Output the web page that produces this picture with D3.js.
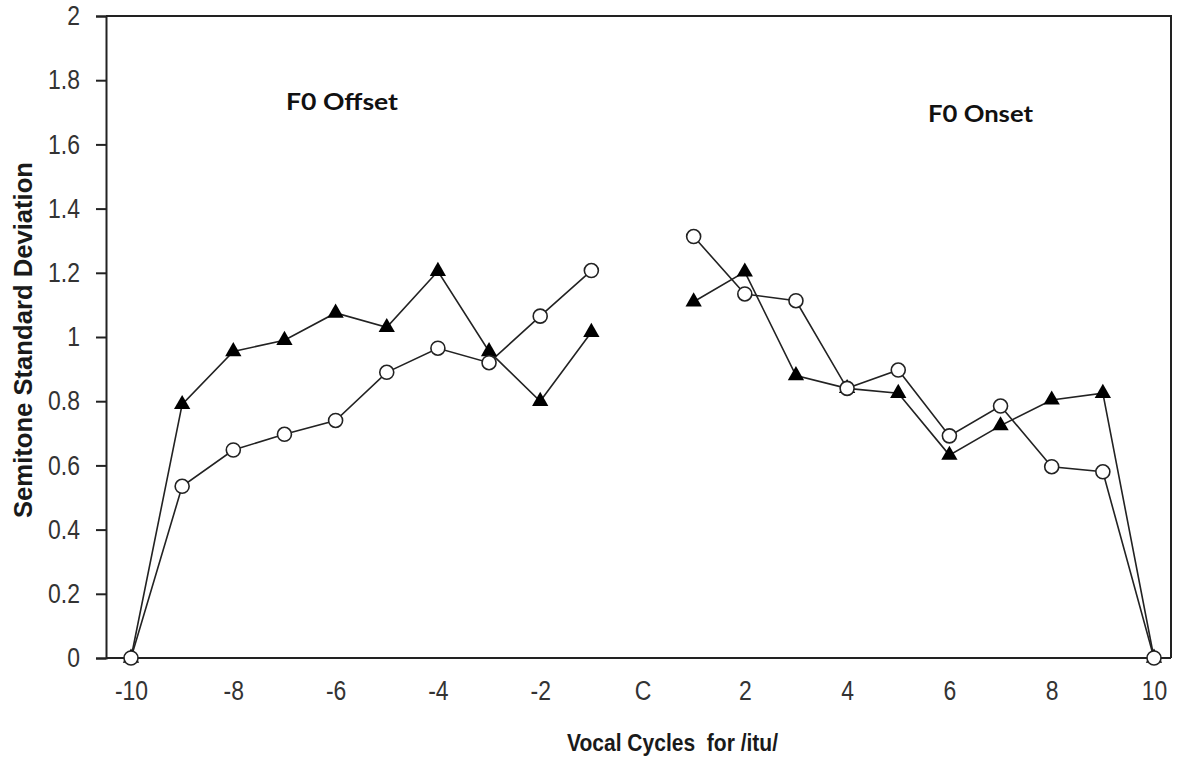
<!DOCTYPE html>
<html>
<head>
<meta charset="utf-8">
<title>Semitone Standard Deviation</title>
<script src="https://cdn.jsdelivr.net/npm/d3@7"></script>
<style>
  html, body { margin: 0; padding: 0; background: #fff; }
  svg { display: block; }
  .tick text { font-family: "Liberation Sans", Arial, sans-serif; font-size: 27px; fill: #333; }
</style>
</head>
<body>
<svg id="chart" width="1186" height="762"></svg>
<script>
// ---------- data
var offsetCycles = [-10, -9, -8, -7, -6, -5, -4, -3, -2, -1];
var onsetCycles  = [1, 2, 3, 4, 5, 6, 7, 8, 9, 10];

var offsetTriangles = [0, 0.79, 0.955, 0.99, 1.075, 1.03, 1.205, 0.955, 0.80, 1.015];
var offsetCircles   = [0, 0.535, 0.648, 0.697, 0.74, 0.89, 0.965, 0.92, 1.065, 1.207];
var onsetTriangles  = [1.11, 1.203, 0.88, 0.84, 0.825, 0.632, 0.724, 0.804, 0.825, 0];
var onsetCircles    = [1.313, 1.134, 1.113, 0.84, 0.897, 0.692, 0.785, 0.596, 0.58, 0];

var xTickValues = [-10, -8, -6, -4, -2, 0, 2, 4, 6, 8, 10];
var xTickLabels = ["-10", "-8", "-6", "-4", "-2", "C", "2", "4", "6", "8", "10"];
var yTickValues = [0, 0.2, 0.4, 0.6, 0.8, 1, 1.2, 1.4, 1.6, 1.8, 2];

// ---------- layout
var box = { left: 106, right: 1171, top: 16, bottom: 658 };
var svg = d3.select("#chart");

var x = d3.scaleLinear().domain([-10, 10]).range([131, 1154]);
var y = d3.scaleLinear().domain([0, 2]).range([box.bottom, box.top]);

// labels in the picture are a bit narrower than the font
function narrow(sel, k) {
    sel.each(function() {
        var w = this.getComputedTextLength();
        d3.select(this).attr("textLength", w * k).attr("lengthAdjust", "spacingAndGlyphs");
    });
}

// frame (top + right)
svg.append("path")
    .attr("d", "M" + box.left + "," + box.top + "H" + box.right + "V" + box.bottom)
    .attr("fill", "none")
    .attr("stroke", "#222")
    .attr("stroke-width", 2);

// y axis
var yAxis = svg.append("g")
    .attr("transform", "translate(" + box.left + ",0)")
    .call(d3.axisLeft(y)
        .tickValues(yTickValues)
        .tickSize(10)
        .tickPadding(16)
        .tickFormat(function(d) { return String(+d.toFixed(1)); }));
yAxis.select(".domain").attr("stroke", "#222").attr("stroke-width", 2);
yAxis.selectAll(".tick line").attr("stroke", "#222").attr("stroke-width", 2);
narrow(yAxis.selectAll(".tick text"), 0.85);

// x axis (no tick marks)
var xAxis = svg.append("g")
    .attr("transform", "translate(0," + box.bottom + ")")
    .call(d3.axisBottom(x)
        .tickValues(xTickValues)
        .tickSize(0)
        .tickPadding(23)
        .tickFormat(function(d, i) { return xTickLabels[i]; }));
xAxis.select(".domain")
    .attr("d", "M" + box.left + ",0H" + box.right)
    .attr("stroke", "#222").attr("stroke-width", 2);
narrow(xAxis.selectAll(".tick text"), 0.85);

// axis titles
svg.append("text")
    .attr("x", 567).attr("y", 751)
    .style("font-family", "'Liberation Sans', Arial, sans-serif")
    .style("font-size", "24px").style("font-weight", "bold").attr("fill", "#1a1a1a")
    .attr("xml:space", "preserve")
    .attr("textLength", 211).attr("lengthAdjust", "spacingAndGlyphs")
    .text("Vocal Cycles  for /itu/");

svg.append("text")
    .attr("transform", "translate(32,340) rotate(-90)")
    .attr("text-anchor", "middle")
    .style("font-family", "'Liberation Sans', Arial, sans-serif")
    .style("font-size", "26px").style("font-weight", "bold").attr("fill", "#1a1a1a")
    .attr("textLength", 356).attr("lengthAdjust", "spacingAndGlyphs")
    .text("Semitone Standard Deviation");

// annotations
svg.append("text")
    .attr("x", 286).attr("y", 110)
    .style("font-family", "Lato, 'Open Sans', sans-serif")
    .style("font-size", "22px").style("font-weight", "bold").attr("fill", "#111")
    .attr("textLength", 112).attr("lengthAdjust", "spacingAndGlyphs")
    .text("F0 Offset");
svg.append("text")
    .attr("x", 928).attr("y", 122)
    .style("font-family", "Lato, 'Open Sans', sans-serif")
    .style("font-size", "22px").style("font-weight", "bold").attr("fill", "#111")
    .attr("textLength", 105).attr("lengthAdjust", "spacingAndGlyphs")
    .text("F0 Onset");

// ---------- series
var line = d3.line()
    .x(function(d) { return x(d[0]); })
    .y(function(d) { return y(d[1]); });

function pairs(xs, ys) { return d3.zip(xs, ys); }

var series = [
    { pts: pairs(offsetCycles, offsetTriangles), shape: "triangle" },
    { pts: pairs(onsetCycles, onsetTriangles), shape: "triangle" },
    { pts: pairs(offsetCycles, offsetCircles), shape: "circle" },
    { pts: pairs(onsetCycles, onsetCircles), shape: "circle" }
];

series.forEach(function(s) {
    svg.append("path")
        .datum(s.pts)
        .attr("d", line)
        .attr("fill", "none")
        .attr("stroke", "#222")
        .attr("stroke-width", 1.6);
});

var triSym = d3.symbol().type(d3.symbolTriangle).size(115);

series.forEach(function(s) {
    var g = svg.append("g");
    if (s.shape === "triangle") {
        g.selectAll("path").data(s.pts).join("path")
            .attr("transform", function(d) { return "translate(" + x(d[0]) + "," + y(d[1]) + ")"; })
            .attr("d", triSym)
            .attr("fill", "#000");
    } else {
        g.selectAll("circle").data(s.pts).join("circle")
            .attr("cx", function(d) { return x(d[0]); })
            .attr("cy", function(d) { return y(d[1]); })
            .attr("r", 7)
            .attr("fill", "#fff")
            .attr("stroke", "#222")
            .attr("stroke-width", 1.6);
    }
});
</script>
</body>
</html>
